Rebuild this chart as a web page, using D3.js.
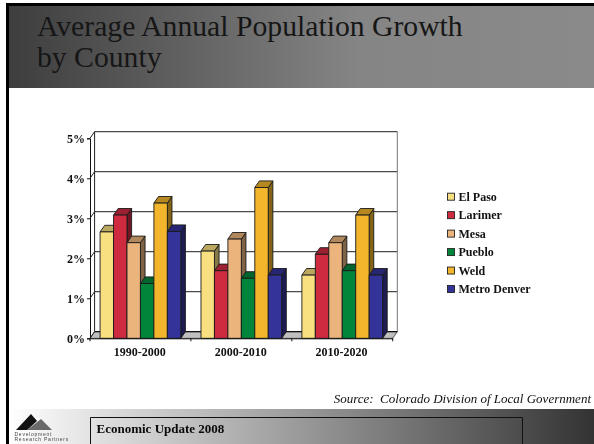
<!DOCTYPE html>
<html><head><meta charset="utf-8">
<script src="https://cdn.jsdelivr.net/npm/d3@7/dist/d3.min.js"></script>
<style>html,body{margin:0;padding:0;background:#fff}svg{display:block;filter:blur(0.35px)}</style>
</head><body><div id="c"></div>
<script>
const periods = ["1990-2000","2000-2010","2010-2020"];
const counties = ["El Paso","Larimer","Mesa","Pueblo","Weld","Metro Denver"];
const elPaso = [2.66,2.18,1.58];
const larimer = [3.08,1.69,2.10];
const mesa = [2.39,2.48,2.39];
const pueblo = [1.37,1.50,1.69];
const weld = [3.38,3.77,3.08];
const metroDenver = [2.67,1.58,1.58];
const seriesValues = [elPaso,larimer,mesa,pueblo,weld,metroDenver];
const colors = ["#F8E080","#CE2B41","#EBB47C","#00853A","#F2B52B","#333399"];
const yTicks = [0,1,2,3,4,5];
const titleLines = ["Average Annual Population Growth","by County"];

const W=594,H=444, dx=4.6, dy=-6.6;
const svg=d3.select("#c").append("svg").attr("width",W).attr("height",H);
const defs=svg.append("defs");
const g1=defs.append("linearGradient").attr("id","hg");
[[0,"#3d3d3d"],[0.6,"#858585"],[1,"#8a8a8a"]].forEach(s=>g1.append("stop").attr("offset",s[0]).attr("stop-color",s[1]));
const g2=defs.append("linearGradient").attr("id","fg");
[[0,"#ffffff"],[1,"#333333"]].forEach(s=>g2.append("stop").attr("offset",s[0]).attr("stop-color",s[1]));

svg.append("rect").attr("x",6).attr("y",3).attr("width",W-6).attr("height",85).attr("fill","url(#hg)");
svg.append("rect").attr("x",6).attr("y",3).attr("width",W-6).attr("height",3).attr("fill","#000");
svg.append("rect").attr("x",6).attr("y",3).attr("width",3).attr("height",H-3).attr("fill","#000");

titleLines.forEach((t,i)=>svg.append("text").attr("x",37).attr("y",[36,66.5][i]).text(t)
  .attr("font-family","'Liberation Serif'").attr("font-size",29.7).attr("fill","#161616"));

const y=d3.scaleLinear().domain([0,5]).range([338.3,138.3]);
const x0=d3.scaleBand().domain(periods).range([90,392.7]).paddingInner(0.2).paddingOuter(0.1);
const x1=d3.scaleBand().domain(counties).range([0,x0.bandwidth()]);
const poly=p=>p.map(q=>q.join(",")).join(" ");
const L=x0.range()[0],R=x0.range()[1],base=y(0);

svg.append("polygon").attr("points",poly([[L,base],[L+dx,base+dy],[R+dx,base+dy],[R,base]])).attr("fill","#c0c0c0").attr("stroke","#222").attr("stroke-width",0.6);
yTicks.forEach(v=>{
  if(v>0) svg.append("line").attr("x1",L+dx).attr("x2",R+dx).attr("y1",y(v)+dy).attr("y2",y(v)+dy).attr("stroke","#4a4a4a").attr("stroke-width",1.3);
  svg.append("line").attr("x1",L).attr("x2",L+dx).attr("y1",y(v)).attr("y2",y(v)+dy).attr("stroke","#222").attr("stroke-width",1);
});
svg.append("line").attr("x1",L+dx).attr("x2",L+dx).attr("y1",y(5)+dy).attr("y2",base+dy).attr("stroke","#222").attr("stroke-width",1);
svg.append("line").attr("x1",R+dx).attr("x2",R+dx).attr("y1",y(5)+dy).attr("y2",base+dy).attr("stroke","#777").attr("stroke-width",1);
svg.append("line").attr("x1",R+dx).attr("x2",R).attr("y1",base+dy).attr("y2",base).attr("stroke","#777").attr("stroke-width",0.8);
svg.append("line").attr("x1",L+dx).attr("x2",R+dx).attr("y1",base+dy).attr("y2",base+dy).attr("stroke","#111").attr("stroke-width",1.2);

const dark=(c,k)=>d3.rgb(c).darker(k).formatHex();
periods.forEach((p,gi)=>{
  counties.forEach((c,si)=>{
    const v=seriesValues[si][gi], xa=x0(p)+x1(c), xb=xa+x1.bandwidth(), t=y(v), col=colors[si];
    const g=svg.append("g").attr("stroke","#1a1a1a").attr("stroke-width",0.9).attr("stroke-linejoin","round");
    g.append("polygon").attr("points",poly([[xb,t],[xb+dx,t+dy],[xb+dx,base+dy],[xb,base]])).attr("fill",dark(col,1.7));
    g.append("polygon").attr("points",poly([[xa,t],[xa+dx,t+dy],[xb+dx,t+dy],[xb,t]])).attr("fill",dark(col,0.8));
    g.append("rect").attr("x",xa).attr("y",t).attr("width",xb-xa).attr("height",base-t).attr("fill",col);
  });
});

const fontB={f:"'Liberation Serif'",s:12};
const ax=svg.append("g").attr("transform",`translate(${L},0)`)
  .call(d3.axisLeft(y).tickValues(yTicks).tickSize(3).tickFormat(d=>d+"%"));
const bx=svg.append("g").attr("transform",`translate(0,${base})`)
  .call(d3.axisBottom(x0).tickSize(0).tickPadding(9));
[ax,bx].forEach(a=>{a.selectAll("text").attr("font-family",fontB.f).attr("font-size",fontB.s).attr("font-weight","bold").attr("fill","#111");
  a.selectAll("path,line").attr("stroke","#111").attr("stroke-width",1);});
ax.selectAll("text").attr("x",-5).attr("dy","0.32em");
bx.selectAll("text").attr("x",-0.7);
[0,1,2,3].forEach(i=>svg.append("line").attr("x1",L+i*x0.step()).attr("x2",L+i*x0.step()).attr("y1",base).attr("y2",base+3).attr("stroke","#111"));

const ly=d3.scalePoint().domain(counties).range([196.7,289]);
counties.forEach((c,i)=>{
  svg.append("rect").attr("x",447.5).attr("y",ly(c)-3.5).attr("width",7).attr("height",7).attr("fill",colors[i]).attr("stroke","#222").attr("stroke-width",0.9);
  svg.append("text").attr("x",458.5).attr("y",ly(c)+4).text(c).attr("font-family",fontB.f).attr("font-size",fontB.s).attr("font-weight","bold").attr("fill","#111");
});

svg.append("text").attr("x",591).attr("y",402.5).attr("text-anchor","end").text("Source:  Colorado Division of Local Government")
  .attr("font-family","'Liberation Serif'").attr("font-style","italic").attr("font-size",13).attr("fill","#111").style("white-space","pre");

svg.append("rect").attr("x",9).attr("y",409).attr("width",W-9).attr("height",H-409).attr("fill","url(#fg)");
svg.append("path").attr("d","M90.5,444V417.5H522.5V444").attr("fill","none").attr("stroke","#111").attr("stroke-width",1);
svg.append("text").attr("x",96.5).attr("y",433).text("Economic Update 2008").attr("font-family","'Liberation Serif'").attr("font-weight","bold").attr("font-size",13).attr("fill","#0a0a0a");
svg.append("polygon").attr("points",poly([[27,430],[41,419],[52,430]])).attr("fill","#6a6a6a");
svg.append("polygon").attr("points",poly([[16,430],[31,414],[37,421],[27,430]])).attr("fill","#111");
["Development","Research Partners"].forEach((t,i)=>svg.append("text").attr("x",14.5).attr("y",435.5+i*5.6).text(t).attr("font-family","'Liberation Sans'").attr("font-size",5).attr("letter-spacing",0.75).attr("fill","#444"));
</script></body></html>
